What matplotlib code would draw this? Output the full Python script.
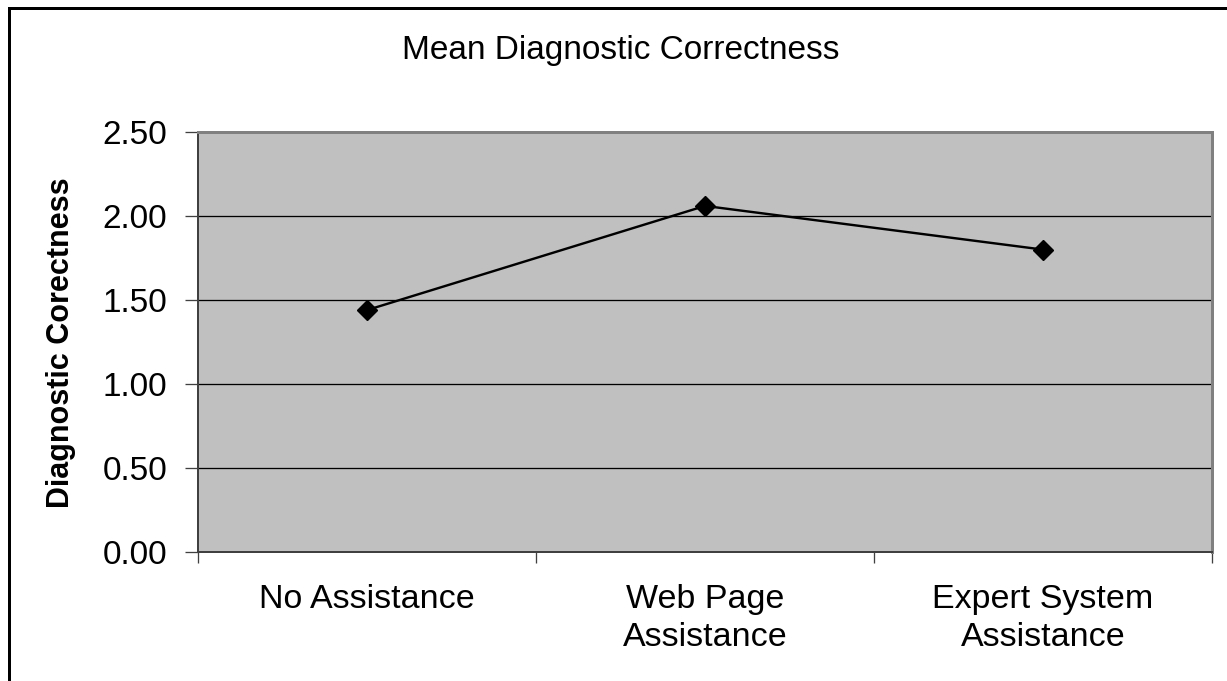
import matplotlib.pyplot as plt
from matplotlib.patches import Rectangle

categories = ['No Assistance', 'Web Page\nAssistance', 'Expert System\nAssistance']
values = [1.44, 2.06, 1.80]
yticks = [0.0, 0.5, 1.0, 1.5, 2.0, 2.5]

plt.rcParams['font.family'] = ['Liberation Sans', 'DejaVu Sans']

W, H = 1227, 681
PT = 72 / 100  # points per pixel at dpi 100
fig = plt.figure(figsize=(W / 100, H / 100), dpi=100)
fig.patch.set_facecolor('white')

# plot area in pixels: left 198, right 1212, top 132, bottom 552
ax = fig.add_axes([198 / W, 1 - 552 / H, (1212 - 198) / W, (552 - 132) / H])
ax.set_facecolor('#c0c0c0')

x = [0.5, 1.5, 2.5]
ax.plot(x, values, color='black', linewidth=2.4 * PT, marker='D', markersize=14 * PT,
        markerfacecolor='black', markeredgecolor='black', zorder=3, clip_on=False)

ax.set_xlim(0, 3)
ax.set_ylim(0, 2.5)
ax.set_yticks(yticks)
ax.set_yticklabels([f'{v:.2f}' for v in yticks], fontsize=24)
ax.yaxis.grid(True, color='black', linewidth=1.3 * PT)
ax.set_axisbelow(True)

ax.set_xticks([0, 1, 2, 3])
ax.set_xticklabels([])
ax.set_xticks(x, minor=True)
ax.set_xticklabels(categories, minor=True, fontsize=24.5, linespacing=1.3)
ax.tick_params(axis='x', which='minor', length=0, pad=32 * PT)
ax.tick_params(axis='x', which='major', length=11 * PT, width=1.3 * PT,
               direction='out', color='#404040')
ax.tick_params(axis='y', length=13 * PT, width=1.3 * PT, direction='out',
               color='#404040', pad=18 * PT)

for side in ['top', 'right']:
    ax.spines[side].set_color('#808080')
    ax.spines[side].set_linewidth(3 * PT)
for side in ['left', 'bottom']:
    ax.spines[side].set_color('#404040')
    ax.spines[side].set_linewidth(2 * PT)

fig.text(61.5 / W, 1 - 342.5 / H, 'Diagnostic Corectness', fontsize=22,
         fontweight='bold', rotation=90, ha='center', va='center')

fig.text(621 / W, 1 - 50 / H, 'Mean Diagnostic Correctness', fontsize=24,
         ha='center', va='center')

# chart border (cut off on the right and bottom)
fig.patches.append(Rectangle((9 / W, -0.1), 1.2, 1 - 8 / H + 0.1,
                             transform=fig.transFigure, fill=False,
                             edgecolor='black', linewidth=3 * PT))

fig.savefig('out.png', dpi=100)
